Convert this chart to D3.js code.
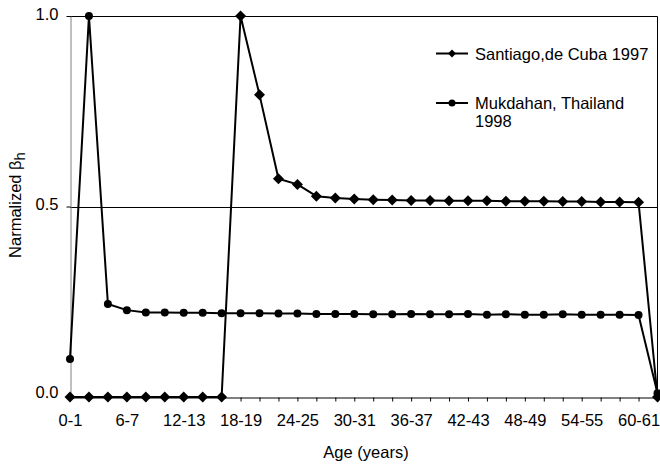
<!DOCTYPE html>
<html>
<head>
<meta charset="utf-8">
<script src="https://cdn.jsdelivr.net/npm/d3@7"></script>
<style>
  body { margin: 0; background: #fff; }
  svg { font-family: "Liberation Sans", Arial, Helvetica, sans-serif; }
</style>
</head>
<body>
<svg id="chart" width="660" height="464"></svg>
<script>
// age groups (2-year bins)
const ageGroups = ["0-1", "2-3", "4-5", "6-7", "8-9", "10-11", "12-13", "14-15",
    "16-17", "18-19", "20-21", "22-23", "24-25", "26-27", "28-29", "30-31",
    "32-33", "34-35", "36-37", "38-39", "40-41", "42-43", "44-45", "46-47",
    "48-49", "50-51", "52-53", "54-55", "56-57", "58-59", "60-61", "62-63"];

const shownLabels = ["0-1", "6-7", "12-13", "18-19", "24-25", "30-31", "36-37",
    "42-43", "48-49", "54-55", "60-61"];

const santiago = [0, 0, 0, 0, 0, 0, 0, 0, 0, 1.0, 0.793, 0.573, 0.558, 0.527,
    0.522, 0.520, 0.518, 0.517, 0.516, 0.516, 0.515, 0.515, 0.515, 0.514, 0.514,
    0.514, 0.513, 0.513, 0.512, 0.512, 0.511, 0];

const mukdahan = [0.1, 1.0, 0.244, 0.228, 0.222, 0.222, 0.221, 0.221, 0.220,
    0.220, 0.220, 0.219, 0.219, 0.218, 0.218, 0.218, 0.217, 0.217, 0.218, 0.217,
    0.217, 0.218, 0.216, 0.217, 0.216, 0.216, 0.217, 0.216, 0.216, 0.216, 0.215, 0.01];

const yTicks = [0, 0.5, 1.0];

const svg = d3.select("#chart");
const fs = 16.5;

const x = d3.scalePoint().domain(ageGroups).range([70, 657.5]);
const y = d3.scaleLinear().domain([0, 1]).range([397, 16]);

// grid lines at 0.5 and 1.0
svg.append("g")
    .selectAll("line")
    .data(yTicks.filter(d => d > 0))
    .join("line")
    .attr("x1", 70).attr("x2", 657.5)
    .attr("y1", d => Math.round(y(d)) + 0.5)
    .attr("y2", d => Math.round(y(d)) + 0.5)
    .attr("stroke", "#000").attr("stroke-width", 1);

// right border of plot area
svg.append("line")
    .attr("x1", 657.5).attr("x2", 657.5)
    .attr("y1", Math.round(y(1)) + 0.5).attr("y2", y(0))
    .attr("stroke", "#000").attr("stroke-width", 1);

// y axis
const yAxis = svg.append("g")
    .attr("transform", "translate(70.5,0)")
    .call(d3.axisLeft(y).tickValues(yTicks).tickSize(4).tickSizeOuter(0)
        .tickFormat(d3.format(".1f")));
yAxis.select(".domain").attr("stroke", "#808080");
yAxis.selectAll(".tick line").attr("stroke", "#000");
yAxis.selectAll("text").attr("font-size", fs).attr("fill", "#000")
    .attr("x", -12).attr("dy", "0.2em");
yAxis.selectAll(".tick").filter(d => d === 0).select("text").attr("dy", "0.05em");
yAxis.attr("font-family", null);

// x axis
const xAxis = svg.append("g")
    .attr("transform", "translate(0," + (y(0) + 0.5) + ")")
    .call(d3.axisBottom(x).tickSize(4).tickSizeOuter(0)
        .tickFormat(d => shownLabels.includes(d) ? d : ""));
xAxis.select(".domain").attr("stroke", "#000");
xAxis.selectAll(".tick line").attr("stroke", "#000");
xAxis.selectAll("text").attr("font-size", fs).attr("fill", "#000").attr("y", 17);
xAxis.attr("font-family", null);

// series lines
const line = d3.line()
    .x((d, i) => x(ageGroups[i]))
    .y(d => y(d));

[santiago, mukdahan].forEach(series => {
    svg.append("path")
        .datum(series)
        .attr("d", line)
        .attr("fill", "none")
        .attr("stroke", "#000")
        .attr("stroke-width", 2)
        .attr("stroke-linejoin", "round");
});

const diamond = "M0,-5.5L5.5,0L0,5.5L-5.5,0Z";

svg.append("g")
    .selectAll("path")
    .data(santiago)
    .join("path")
    .attr("d", diamond)
    .attr("transform", (d, i) => "translate(" + x(ageGroups[i]) + "," + y(d) + ")")
    .attr("fill", "#000");

svg.append("g")
    .selectAll("circle")
    .data(mukdahan)
    .join("circle")
    .attr("cx", (d, i) => x(ageGroups[i]))
    .attr("cy", d => y(d))
    .attr("r", 4)
    .attr("fill", "#000");

// legend
const legend = svg.append("g");
legend.append("line").attr("x1", 436).attr("x2", 468).attr("y1", 53.5).attr("y2", 53.5)
    .attr("stroke", "#000").attr("stroke-width", 2);
legend.append("path").attr("d", "M0,-4L4,0L0,4L-4,0Z").attr("transform", "translate(452,53.5)");
legend.append("text").attr("x", 475).attr("y", 59.5).attr("font-size", fs)
    .text("Santiago,de Cuba 1997");

legend.append("line").attr("x1", 436).attr("x2", 468).attr("y1", 103).attr("y2", 103)
    .attr("stroke", "#000").attr("stroke-width", 2);
legend.append("circle").attr("cx", 452).attr("cy", 103).attr("r", 3.5);
legend.append("text").attr("x", 475).attr("y", 109).attr("font-size", fs)
    .text("Mukdahan, Thailand");
legend.append("text").attr("x", 475).attr("y", 127).attr("font-size", fs)
    .text("1998");

// axis titles
svg.append("text")
    .attr("x", 366).attr("y", 458)
    .attr("text-anchor", "middle").attr("font-size", fs)
    .text("Age (years)");

const yTitle = svg.append("text")
    .attr("transform", "translate(21,205) rotate(-90)")
    .attr("text-anchor", "middle").attr("font-size", fs);
yTitle.append("tspan").text("Narmalized \u03b2");
yTitle.append("tspan").attr("dy", 4).attr("font-size", 15).text("h");
</script>
</body>
</html>
